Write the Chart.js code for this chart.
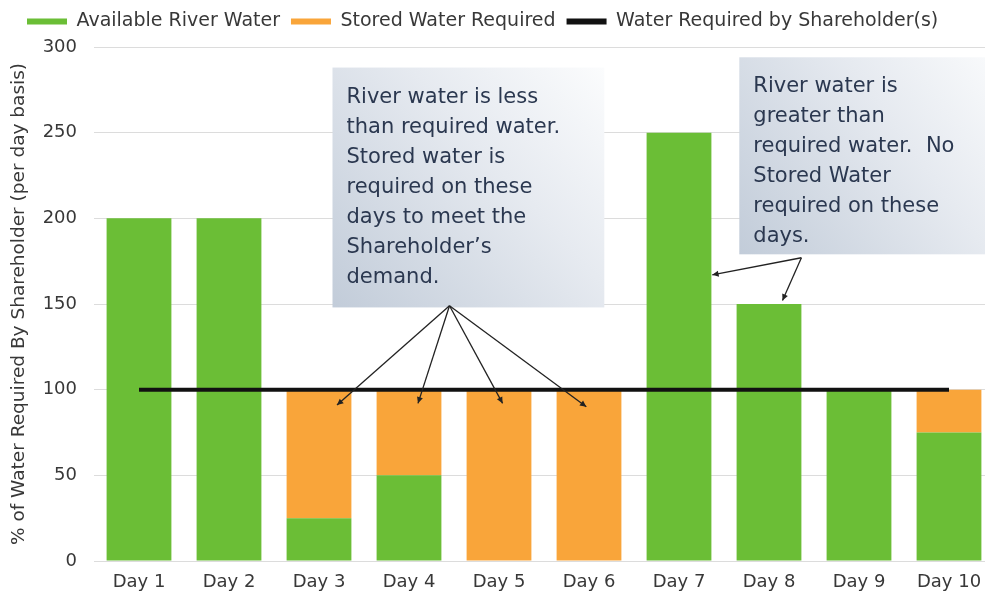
<!DOCTYPE html>
<html>
<head>
<meta charset="utf-8">
<title>River water vs stored water</title>
<script src="https://cdn.jsdelivr.net/npm/chart.js@4.4.1/dist/chart.umd.min.js"></script>
<style>
  html, body { margin: 0; padding: 0; background: #fff; overflow: hidden; }
  #wrap { width: 1000px; height: 597px; position: relative; }
</style>
</head>
<body>
<div id="wrap"><canvas id="waterChart"></canvas></div>
<script>
// data
const days = ['Day 1', 'Day 2', 'Day 3', 'Day 4', 'Day 5', 'Day 6', 'Day 7', 'Day 8', 'Day 9', 'Day 10']
const riverWater = [200, 200, 25, 50, 0, 0, 250, 150, 100, 75]
const storedWater = [0, 0, 75, 50, 100, 100, 0, 0, 0, 25]
const requiredWater = [100, 100, 100, 100, 100, 100, 100, 100, 100, 100]
const yTicks = [0, 50, 100, 150, 200, 250, 300]

// callouts, placed in data units (category index, % value)
const notes = [
  {
    x0: 2.15, x1: 5.17, yTop: 288, yBottom: 148,
    lines: ['River water is less', 'than required water.', 'Stored water is', 'required on these',
      'days to meet the', 'Shareholder\u2019s', 'demand.']
  },
  {
    x0: 6.67, x1: 9.7, yTop: 294, yBottom: 179,
    lines: ['River water is', 'greater than', 'required water.  No', 'Stored Water',
      'required on these', 'days.']
  }
]
const arrows = [
  { from: [3.45, 149], to: [2.2, 91] },
  { from: [3.45, 149], to: [3.1, 92] },
  { from: [3.45, 149], to: [4.04, 92] },
  { from: [3.45, 149], to: [4.97, 90] },
  { from: [7.36, 177], to: [6.37, 167] },
  { from: [7.36, 177], to: [7.15, 152] }
]

const FONT = '"DejaVu Sans", sans-serif'
const TEXT = '#383838'

function drawArrow(ctx, x1, y1, x2, y2) {
  ctx.beginPath()
  ctx.moveTo(x1, y1)
  ctx.lineTo(x2, y2)
  ctx.stroke()
  const ang = Math.atan2(y2 - y1, x2 - x1)
  const size = 7
  ctx.beginPath()
  ctx.moveTo(x2, y2)
  ctx.lineTo(x2 - size * Math.cos(ang - 0.45), y2 - size * Math.sin(ang - 0.45))
  ctx.lineTo(x2 - size * Math.cos(ang + 0.45), y2 - size * Math.sin(ang + 0.45))
  ctx.closePath()
  ctx.fill()
}

const notesPlugin = {
  id: 'notes',
  afterDatasetsDraw(chart) {
    const { ctx, scales: { x, y } } = chart
    ctx.save()
    notes.forEach(n => {
      const left = x.getPixelForValue(n.x0)
      const right = x.getPixelForValue(n.x1)
      const top = y.getPixelForValue(n.yTop)
      const bottom = y.getPixelForValue(n.yBottom)
      const grad = ctx.createLinearGradient(left, bottom, right, top)
      grad.addColorStop(0, '#c2ccd9')
      grad.addColorStop(0.6, '#e6eaf0')
      grad.addColorStop(1, '#fbfcfd')
      ctx.fillStyle = grad
      ctx.fillRect(left, top, right - left, bottom - top)
      ctx.fillStyle = '#2b3850'
      ctx.font = '21px ' + FONT
      ctx.textAlign = 'left'
      ctx.textBaseline = 'alphabetic'
      n.lines.forEach((t, i) => ctx.fillText(t, left + 14, top + 35 + i * 30))
    })
    ctx.strokeStyle = '#222'
    ctx.fillStyle = '#222'
    ctx.lineWidth = 1.3
    arrows.forEach(a => {
      drawArrow(ctx,
        x.getPixelForValue(a.from[0]), y.getPixelForValue(a.from[1]),
        x.getPixelForValue(a.to[0]), y.getPixelForValue(a.to[1]))
    })
    ctx.restore()
  }
}

// a bit more room under the legend
const legendSpace = {
  id: 'legendSpace',
  beforeInit(chart) {
    const fitLegend = chart.legend.fit
    chart.legend.fit = function () {
      fitLegend.bind(chart.legend)()
      this.height += 6
    }
  }
}

const waterChart = new Chart(document.getElementById('waterChart'), {
  type: 'bar',
  data: {
    labels: days,
    datasets: [
      {
        label: 'Available River Water',
        data: riverWater,
        backgroundColor: '#6bbe36',
        stack: 'water',
        order: 1
      },
      {
        label: 'Stored Water Required',
        data: storedWater,
        backgroundColor: '#f9a53a',
        stack: 'water',
        order: 1
      },
      {
        type: 'line',
        label: 'Water Required by Shareholder(s)',
        data: requiredWater,
        borderColor: '#111',
        backgroundColor: '#111',
        borderWidth: 4,
        pointRadius: 0,
        stack: 'required',
        order: 0
      }
    ]
  },
  options: {
    responsive: true,
    maintainAspectRatio: false,
    animation: false,
    events: [],
    categoryPercentage: 1,
    barPercentage: 0.72,
    layout: { padding: { top: 1, right: 6, bottom: 0, left: 16 } },
    plugins: {
      tooltip: { enabled: false },
      legend: {
        position: 'top',
        align: 'start',
        labels: {
          boxWidth: 40,
          boxHeight: 6,
          padding: 11,
          color: TEXT,
          font: { family: FONT, size: 19 },
          generateLabels(chart) {
            const items = Chart.defaults.plugins.legend.labels.generateLabels(chart)
            items.forEach(i => { i.lineWidth = 0 })
            return items.sort((a, b) => a.datasetIndex - b.datasetIndex)
          }
        }
      }
    },
    scales: {
      x: {
        stacked: true,
        grid: { display: false },
        border: { display: false },
        ticks: { color: TEXT, font: { family: FONT, size: 18 }, padding: 3, maxRotation: 0 },
        afterFit(scale) { scale.height = 36 }
      },
      y: {
        stacked: true,
        min: 0,
        max: 300,
        grid: { color: '#dcdcdc', drawTicks: false },
        border: { display: false },
        ticks: { color: TEXT, font: { family: FONT, size: 18 }, padding: 17 },
        afterBuildTicks(scale) { scale.ticks = yTicks.map(v => ({ value: v })) },
        afterFit(scale) { scale.width = 78 },
        title: {
          display: true,
          text: '% of Water Required By Shareholder (per day basis)',
          color: TEXT,
          font: { family: FONT, size: 18.5 },
          padding: { top: -8, bottom: 0 }
        }
      }
    }
  },
  plugins: [notesPlugin, legendSpace]
})
</script>
</body>
</html>
